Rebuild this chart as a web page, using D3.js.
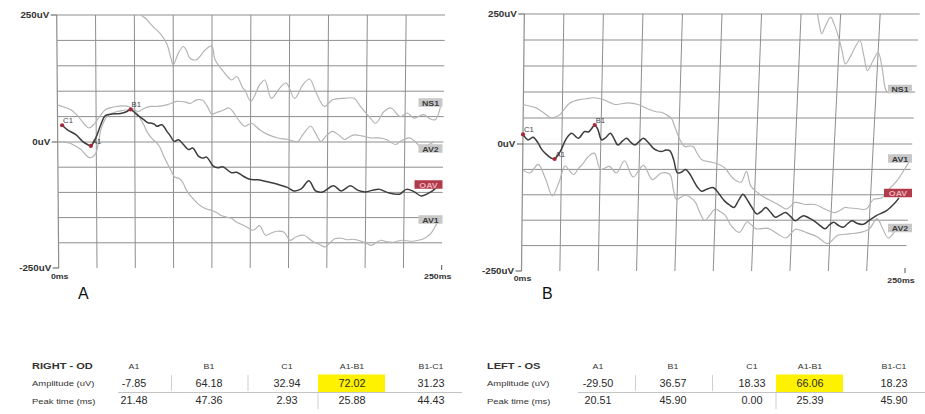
<!DOCTYPE html>
<html>
<head>
<meta charset="utf-8">
<script src="https://cdn.jsdelivr.net/npm/d3@7/dist/d3.min.js"></script>
<style>
  html, body { margin: 0; padding: 0; background: #fff; }
  svg { display: block; }
  text { font-family: "Liberation Sans", Arial, sans-serif; }
</style>
</head>
<body>
<svg id="fig" width="925" height="414"></svg>
<script>
// ---------------- data ----------------
// Flash ERG summary table (right eye OD / left eye OS)
const tableColumns = ["A1", "B1", "C1", "A1-B1", "B1-C1"];
const tableRowLabels = ["Amplitude (uV)", "Peak time (ms)"];
const odAmplitude = [-7.85, 64.18, 32.94, 72.02, 31.23];
const odPeakTime  = [21.48, 47.36, 2.93, 25.88, 44.43];
const osAmplitude = [-29.50, 36.57, 18.33, 66.06, 18.23];
const osPeakTime  = [20.51, 45.90, 0.00, 25.39, 45.90];

// axis ticks
const yTickValues = [250, 0, -250];
const yTickLabels = ["250uV", "0uV", "-250uV"];
const xTickValues = [0, 250];
const xTickLabels = ["0ms", "250ms"];
const panelLetters = ["A", "B"];
const traceNames = ["NS1", "AV2", "OAV", "AV1"];

// traces: [time ms, amplitude uV]
const odNS1 = [[52,265],[53.6,252],[57,244],[60,234],[63,224],[66.5,214],[70.8,194],[73.5,165],[75,152],[78.3,175],[81.5,188],[83.5,180],[85.8,165],[90,162],[95.5,181],[99.8,189],[102,162],[107.3,139],[112.7,122],[116,129],[120,106],[121.2,103],[125.1,80],[130.9,113],[134.1,122],[138.4,86],[143.8,106],[148,116],[153.4,86],[158.8,113],[163,124],[167.5,96],[172.8,70],[178,83],[185.6,86],[192,86],[196,70],[201.7,50],[206,37],[211.4,60],[215.7,67],[222,50],[226.4,57],[230.7,47],[237,54],[241,46],[244.6,44],[247.9,70]];
const odAV2 = [[0,73],[4,69],[8.6,63.5],[12,55],[15,44],[18,33],[20.4,27.5],[23,33],[25.8,44],[28.5,55],[31,63.5],[35,68],[38.6,70],[42,71],[46,70],[49.5,64],[52.6,60],[56,66],[60,70],[64.4,70],[70.8,73],[77.3,80],[82,79],[86,76],[90,83],[94,82],[97,70],[100,55],[103,58],[107,62],[111,67],[114,58],[118,40],[121.2,31],[125.5,37],[128,32],[130.9,24],[136,15],[142.7,8],[149,5],[155.6,1],[159,15],[164,31],[167,18],[170.6,1],[174,12],[178,21],[182,14],[186,5],[189,10],[192,14],[197,12],[202.8,8],[208,8],[213,5],[219,-5],[223,3],[228,8],[232,0],[236,-12],[240,-6],[244,0]];
const odMain = [[6.4,24],[11.8,14.4],[16.1,1.3],[19.3,-5],[24.7,8],[28,34],[31,52],[35.4,55],[40.8,56],[45,60],[51,55],[55.8,44],[58.5,38],[61,37],[62.7,35],[64.4,31],[67.6,34],[70.8,21],[73,12],[75.5,1.3],[78.3,4.6],[81.5,-5],[84.8,-15],[87.5,-12],[91.2,-28],[94,-32],[96.5,-30],[100.9,-48],[104,-51],[107,-49],[112.7,-61],[116,-60],[120.2,-67.5],[124.5,-74],[130,-75],[136,-79],[142.7,-84],[149,-90],[153.4,-97],[158,-93],[163,-77],[167.4,-97],[172,-99],[179,-87],[184,-97],[190,-87],[195,-96],[200,-99],[204,-96],[209,-94],[214,-100],[222,-103.5],[226.4,-94],[231,-98],[236,-107],[240,-103],[244.6,-94],[247,-85]];
const odAV1 = [[0,1],[4,0],[7.5,-2],[11,-7],[15,-15],[18,-25],[20.4,-31],[22.5,-30],[24.7,-22],[26.5,0],[28,24],[30,40],[32,50],[35,56],[38.6,60],[42,62],[46,63.5],[48.5,62],[51.5,57],[53.6,46],[55.8,34],[58,20],[60,11],[62,4],[64.4,-2],[66.5,-12],[68.7,-28],[71,-42],[73,-54],[76,-70],[78.5,-72],[81,-80],[83.7,-97],[87,-110],[90,-120],[92.3,-126],[96.6,-133],[100,-136],[103,-140],[106,-146],[109.4,-149],[113,-152],[116,-159],[119,-163],[122.3,-168],[126.6,-175],[128.5,-172],[131,-166],[135,-185],[139,-180],[143,-177],[147,-179],[151,-195],[155,-188],[160,-185],[166,-198],[170,-203],[173.8,-208],[177,-200],[180,-192],[184.6,-191],[188,-194],[192,-193],[198.5,-198],[204,-205],[207,-200],[210,-195],[214,-198],[218,-199],[224,-195],[229,-197],[233,-196],[238,-192],[242.5,-182],[245.7,-166],[247,-159]];

const osNS1 = [[184,262],[185.3,250],[187,228],[188.6,212],[190.5,225],[193.8,244],[196,232],[199,209],[202,180],[204.6,154],[207.8,170],[210.5,188],[213,199],[216,170],[218.8,141],[222,160],[225,176],[228,147],[231,105],[233,98]];
const osAV1 = [[0,76],[4,73],[8.5,69],[13,60],[18.1,50],[20.5,52],[23.4,56],[26.5,68],[29.8,79],[36.2,85.5],[40,87],[44.7,89],[51,85.5],[55,80],[58.5,76],[62,77],[67,79],[73.4,76],[77,71],[80.9,66],[85,62],[88.3,61],[91,57],[94.7,50],[97,35],[99.8,14],[102,2],[104,-5],[107,-4],[109.4,-5],[112,-18],[115.2,-31],[121.6,-36],[126,-40],[130.2,-47],[133,-58],[136.6,-70],[141,-75],[144.2,-54],[147.4,-83],[152,-96],[156.9,-106],[161,-112],[165.5,-119],[171,-128],[176.4,-115],[179,-116],[182.8,-119],[189.3,-119],[195.8,-128],[202.3,-135],[205.5,-131],[208.8,-125],[212,-126],[216.3,-127],[222.7,-128],[227,-109],[232.4,-106],[236.7,-89],[242,-70],[247.5,-41],[249,-33]];
const osMain = [[3.4,8],[6.6,13],[9.5,3],[12,-10],[15,-20],[18.4,-28],[24,-15],[28,11],[31.2,20.7],[35.5,11],[39.5,24],[42,23],[44,30],[47.8,29],[50.5,8],[53,12],[56,20.7],[58.5,10],[61,-2],[64,6],[66.6,11],[69,4],[72,-2],[75,6],[77.3,11],[80.5,3],[83.7,-8],[86.5,-13],[89,-15],[92,-12],[94.4,-13],[97,-30],[99.8,-57],[102.5,-55],[105,-50],[108,-60],[110.5,-73],[113,-85],[115.7,-93],[119,-89],[123.3,-86],[127,-98],[130.7,-112],[134,-120],[137,-125],[140,-110],[142.5,-99],[145,-108],[148,-122],[152,-138],[155,-132],[157.6,-125],[161,-135],[164,-144],[167,-140],[170.5,-135],[174,-143],[177,-151],[180,-145],[182.5,-141],[186,-146],[189,-151],[193,-160],[196.6,-167],[199,-160],[202,-154],[205,-160],[208.4,-164],[211,-157],[213.8,-151],[217,-156],[221.3,-158],[225,-150],[229.4,-141],[235.8,-131],[241.2,-115],[243.4,-106]];
const osAV2 = [[0,-50.5],[4.7,-57],[10,-40],[15,-70],[19.4,-102],[23.6,-75],[27.3,-43],[30,-52],[33,-60],[36,-48],[39,-38],[42,-25],[46,-18],[50.2,-50],[55.8,-44],[60.5,-57],[65.5,-33],[71.3,-65],[77.7,-42],[83.7,-70],[89.5,-57],[94.9,-60],[97.5,-90],[99.6,-109],[104.6,-101],[108,-104],[112,-115],[115,-135],[118.4,-151],[121.5,-140],[125,-128],[128,-133],[131.4,-140],[135.7,-161],[141.1,-174],[145.9,-153],[149,-160],[152,-167],[159.5,-166],[166,-177],[171.4,-185],[177.4,-168],[181,-170],[184.3,-174],[191.9,-183],[198.4,-196],[201.5,-190],[204.8,-180],[212.4,-177],[219.9,-174],[225.3,-167],[230,-147],[234,-167],[237.9,-185],[242.2,-170]];

// ---------------- layout ----------------
const W = 925, H = 414;
const gridStep = { time: 25, volt: 50 };
const C = {
  grid: "#8e8e8e", faint: "#b3b3b3", main: "#3d3d3d", marker: "#a52a3c",
  tag: "#c8c8c8", tagText: "#3a3a3a", tagRed: "#b13a4b", tagRedText: "#ecb3bd",
  text: "#333", yellow: "#fff200"
};

// each panel is a slightly keystoned sheet: corners of the 0..250 ms frame
const panels = [
  { id: "od", tl: 56.7, tr: 445, bl: 58.7, br: 441.7, top: 15, zero: 142, bottom: 268,
    traces: [odNS1, odAV2, null, odAV1], main: odMain,
    amp: odAmplitude, peak: odPeakTime,
    tagX: 442.5, tagY: [102.5, 148.5, 184.5, 219.5],
    letter: { x: 78, y: 299 }, msDrop: [11, 11] },
  { id: "os", tl: 524.3, tr: 919.7, bl: 521.5, br: 905, top: 14, zero: 144, bottom: 271,
    traces: [osNS1, osAV2, null, osAV1], main: osMain,
    amp: osAmplitude, peak: osPeakTime,
    tagX: 912, tagY: [89, 228, 193, 158.5],
    letter: { x: 542, y: 299 }, msDrop: [9.5, 12] }
];

const svg = d3.select("#fig");
svg.append("rect").attr("width", W).attr("height", H).attr("fill", "#fff");

// stretch glyphs horizontally by factor k
function widen(sel, k) {
  sel.each(function () {
    const L = this.getComputedTextLength();
    d3.select(this).attr("textLength", L * k).attr("lengthAdjust", "spacingAndGlyphs");
  });
  return sel;
}

panels.forEach((p, pi) => {
  const x = d3.scaleLinear().domain([0, 250]).range([0, 1]);
  const y = d3.scaleLinear().domain([-250, 0, 250]).range([p.bottom, p.zero, p.top]);
  // horizontal position of (t, v) on the keystoned sheet
  const sx = (t, v) => {
    const py = y(v);
    const w = (py - p.top) / (p.bottom - p.top);
    const l = p.tl + (p.bl - p.tl) * w;
    const r = p.tr + (p.br - p.tr) * w;
    return l + x(t) * (r - l);
  };

  const g = svg.append("g").attr("class", "panel-" + p.id);

  // grid
  const voltLines = d3.range(250, -250, -gridStep.volt);
  const timeLines = d3.range(0, 250, gridStep.time);
  g.append("g").selectAll("line").data(voltLines).join("line")
    .attr("x1", v => sx(0, v)).attr("x2", v => sx(250, v))
    .attr("y1", v => y(v)).attr("y2", v => y(v))
    .attr("stroke", C.grid).attr("stroke-width", 1);
  g.append("g").selectAll("line").data(timeLines).join("line")
    .attr("x1", t => sx(t, 250)).attr("x2", t => sx(t, -250))
    .attr("y1", y(250)).attr("y2", y(-250))
    .attr("stroke", C.grid).attr("stroke-width", t => t === 0 ? 1.2 : 1);

  // y ticks and labels
  const yt = g.append("g");
  yt.selectAll("line").data(yTickValues).join("line")
    .attr("x1", v => sx(0, v) - 6).attr("x2", v => sx(0, v))
    .attr("y1", v => y(v)).attr("y2", v => y(v))
    .attr("stroke", "#555").attr("stroke-width", 1);
  widen(yt.selectAll("text").data(yTickValues).join("text")
    .attr("x", v => sx(0, v) - 7.5).attr("y", v => y(v) + 3)
    .attr("text-anchor", "end").attr("font-size", 8.5).attr("font-weight", "bold")
    .attr("fill", C.text).text((v, i) => yTickLabels[i]), 1.15);

  // x tick labels
  const xt = g.append("g");
  xt.selectAll("line").data(xTickValues.filter(t => t > 0)).join("line")
    .attr("x1", t => sx(t, -250)).attr("x2", t => sx(t, -250))
    .attr("y1", y(-250) - 3).attr("y2", y(-250) + 2)
    .attr("stroke", "#555");
  widen(xt.selectAll("text").data(xTickValues).join("text")
    .attr("x", t => sx(t, -250) + (t === 0 ? 1 : -4))
    .attr("y", (t, i) => y(-250) + p.msDrop[i])
    .attr("text-anchor", "middle").attr("font-size", 8).attr("font-weight", "bold")
    .attr("fill", C.text).text((t, i) => xTickLabels[i]), 1.1);

  // clip to the sheet
  const clipId = "clip-" + p.id;
  svg.append("clipPath").attr("id", clipId).append("rect")
    .attr("x", Math.min(p.tl, p.bl) - 2).attr("y", p.top)
    .attr("width", Math.max(p.tr, p.br) - Math.min(p.tl, p.bl) + 4)
    .attr("height", p.bottom - p.top);

  const line = d3.line()
    .x(d => sx(d[0], d[1])).y(d => y(d[1]))
    .curve(d3.curveCatmullRom.alpha(0.5));

  const tg = g.append("g").attr("clip-path", `url(#${clipId})`);
  p.traces.forEach(tr => {
    if (!tr) return;
    tg.append("path").datum(tr).attr("d", line)
      .attr("fill", "none").attr("stroke", C.faint).attr("stroke-width", 1.15);
  });

  // main trace passes through the tabulated A1 / B1 / C1 peaks
  const markers = [0, 1, 2].map(i => ({ name: tableColumns[i], t: p.peak[i], v: p.amp[i] }));
  const mainPts = p.main.concat(markers.map(m => [m.t, m.v])).sort((a, b) => a[0] - b[0]);
  tg.append("path").datum(mainPts).attr("d", line)
    .attr("fill", "none").attr("stroke", C.main).attr("stroke-width", 1.5);

  g.append("g").selectAll("circle").data(markers).join("circle")
    .attr("cx", m => sx(m.t, m.v)).attr("cy", m => y(m.v)).attr("r", 2.1)
    .attr("fill", C.marker);
  widen(g.append("g").selectAll("text").data(markers).join("text")
    .attr("x", m => sx(m.t, m.v) + 1).attr("y", m => y(m.v) - 2)
    .attr("font-size", 7).attr("fill", "#444").text(m => m.name), 1.1);

  // trace name tags at the right edge
  const tags = g.append("g");
  traceNames.forEach((name, i) => {
    const red = i === 2;
    const wBox = red ? 28 : 24, hBox = 8.5;
    const cx = p.tagX - wBox / 2, cy = p.tagY[i];
    tags.append("rect").attr("x", cx - wBox / 2).attr("y", cy - hBox / 2)
      .attr("width", wBox).attr("height", hBox)
      .attr("fill", red ? C.tagRed : C.tag);
    widen(tags.append("text").attr("x", cx).attr("y", cy + 3)
      .attr("text-anchor", "middle").attr("font-size", 8).attr("font-weight", "bold")
      .attr("fill", red ? C.tagRedText : C.tagText).text(name), 1.1);
  });

  // panel letter
  svg.append("text").attr("x", p.letter.x).attr("y", p.letter.y)
    .attr("font-size", 16).attr("fill", "#111").text(panelLetters[pi]);
});

// ---------------- tables ----------------
const tables = [
  { title: "RIGHT - OD", amp: odAmplitude, peak: odPeakTime,
    x0: 32, cols: [134, 209, 287, 352, 431], yellow: [318, 385], lineX: [118, 462] },
  { title: "LEFT - OS", amp: osAmplitude, peak: osPeakTime,
    x0: 487, cols: [598, 673, 752, 810, 894], yellow: [776, 843], lineX: [578, 925] }
];
const rowY = [369, 386.5, 404];

tables.forEach(tb => {
  const g = svg.append("g");
  // highlighted A1-B1 amplitude cell
  g.append("rect").attr("x", tb.yellow[0]).attr("y", 374.5)
    .attr("width", tb.yellow[1] - tb.yellow[0]).attr("height", 17.5).attr("fill", C.yellow);
  // rule between the two value rows
  g.append("line").attr("x1", tb.lineX[0]).attr("x2", tb.lineX[1])
    .attr("y1", 392.5).attr("y2", 392.5).attr("stroke", "#c4c4c4").attr("stroke-width", 1);
  const mid = (a, b) => (tb.cols[a] + tb.cols[b]) / 2;
  [[mid(0, 1), 375, 391], [mid(1, 2), 375, 391], [tb.yellow[0], 393, 409]].forEach(s => {
    g.append("line").attr("x1", s[0]).attr("x2", s[0]).attr("y1", s[1]).attr("y2", s[2])
      .attr("stroke", "#cfcfcf").attr("stroke-width", 1);
  });

  widen(g.append("text").attr("x", tb.x0).attr("y", rowY[0])
    .attr("font-size", 8.5).attr("font-weight", "bold").attr("fill", C.text).text(tb.title), 1.3);
  widen(g.selectAll(".rl").data(tableRowLabels).join("text")
    .attr("x", tb.x0).attr("y", (d, i) => rowY[i + 1] - 0.5)
    .attr("font-size", 8).attr("fill", C.text).text(d => d), 1.18);
  widen(g.selectAll(".ch").data(tableColumns).join("text")
    .attr("x", (d, i) => tb.cols[i]).attr("y", rowY[0])
    .attr("text-anchor", "middle").attr("font-size", 8).attr("fill", C.text).text(d => d), 1.1);
  [tb.amp, tb.peak].forEach((vals, r) => {
    widen(g.append("g").selectAll("text").data(vals).join("text")
      .attr("x", (d, i) => tb.cols[i]).attr("y", rowY[r + 1])
      .attr("text-anchor", "middle").attr("font-size", 10).attr("fill", "#2a2a2a")
      .text(d => d.toFixed(2)), 1.08);
  });
});
</script>
</body>
</html>
